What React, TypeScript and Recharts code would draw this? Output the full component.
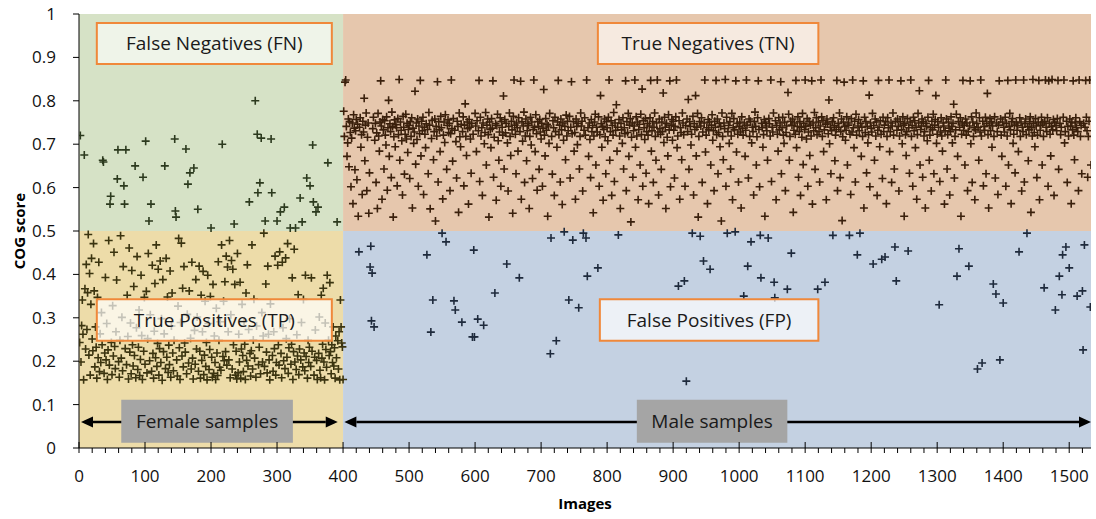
import {
  ScatterChart,
  Scatter,
  XAxis,
  YAxis,
  ReferenceArea,
  ReferenceLine,
} from "recharts";

// COG score per image, image 1..400 are female samples
const femaleScores = [
  0.243, 0.72, 0.198, 0.282, 0.341, 0.262, 0.157, 0.675, 0.367, 0.228, 0.423, 0.273, 0.358, 0.492, 0.214, 0.402, 0.168, 0.331, 0.437, 0.251,
  0.224, 0.471, 0.362, 0.187, 0.279, 0.232, 0.161, 0.347, 0.208, 0.428, 0.176, 0.263, 0.197, 0.312, 0.238, 0.663, 0.659, 0.172, 0.219, 0.393,
  0.203, 0.287, 0.158, 0.226, 0.478, 0.191, 0.562, 0.58, 0.243, 0.169, 0.328, 0.212, 0.451, 0.234, 0.183, 0.268, 0.387, 0.62, 0.687, 0.199,
  0.163, 0.248, 0.489, 0.207, 0.301, 0.178, 0.418, 0.604, 0.562, 0.229, 0.687, 0.192, 0.352, 0.257, 0.159, 0.461, 0.221, 0.288, 0.171, 0.409,
  0.238, 0.189, 0.372, 0.213, 0.65, 0.162, 0.277, 0.441, 0.181, 0.232, 0.318, 0.167, 0.204, 0.398, 0.259, 0.158, 0.624, 0.223, 0.347, 0.193,
  0.707, 0.361, 0.173, 0.252, 0.448, 0.523, 0.201, 0.307, 0.562, 0.177, 0.421, 0.218, 0.161, 0.269, 0.379, 0.208, 0.468, 0.188, 0.241, 0.412,
  0.168, 0.229, 0.431, 0.197, 0.298, 0.156, 0.388, 0.222, 0.263, 0.65, 0.183, 0.437, 0.209, 0.348, 0.174, 0.237, 0.192, 0.408, 0.163, 0.281,
  0.357, 0.219, 0.178, 0.248, 0.712, 0.546, 0.532, 0.203, 0.166, 0.327, 0.483, 0.231, 0.158, 0.289, 0.472, 0.212, 0.368, 0.187, 0.418, 0.242,
  0.221, 0.689, 0.171, 0.308, 0.608, 0.196, 0.362, 0.634, 0.253, 0.182, 0.428, 0.207, 0.159, 0.645, 0.271, 0.193, 0.388, 0.228, 0.302, 0.55,
  0.177, 0.419, 0.223, 0.161, 0.352, 0.202, 0.268, 0.407, 0.169, 0.214, 0.338, 0.188, 0.243, 0.157, 0.398, 0.287, 0.181, 0.227, 0.349, 0.507,
  0.209, 0.163, 0.377, 0.172, 0.258, 0.197, 0.158, 0.322, 0.219, 0.167, 0.429, 0.248, 0.186, 0.291, 0.179, 0.468, 0.70, 0.211, 0.338, 0.201,
  0.383, 0.222, 0.442, 0.191, 0.417, 0.268, 0.203, 0.478, 0.162, 0.307, 0.432, 0.182, 0.412, 0.238, 0.516, 0.377, 0.168, 0.223, 0.159, 0.448,
  0.173, 0.262, 0.198, 0.382, 0.161, 0.228, 0.331, 0.213, 0.176, 0.292, 0.239, 0.158, 0.357, 0.202, 0.422, 0.189, 0.273, 0.567, 0.218, 0.166,
  0.224, 0.468, 0.182, 0.249, 0.343, 0.207, 0.80, 0.163, 0.281, 0.723, 0.588, 0.192, 0.232, 0.611, 0.171, 0.714, 0.312, 0.198, 0.258, 0.495,
  0.188, 0.523, 0.378, 0.221, 0.173, 0.419, 0.262, 0.203, 0.157, 0.332, 0.712, 0.588, 0.213, 0.177, 0.268, 0.229, 0.442, 0.168, 0.197, 0.523,
  0.421, 0.238, 0.191, 0.452, 0.544, 0.218, 0.162, 0.428, 0.277, 0.201, 0.555, 0.183, 0.438, 0.252, 0.209, 0.471, 0.172, 0.231, 0.298, 0.507,
  0.193, 0.239, 0.392, 0.158, 0.222, 0.458, 0.198, 0.507, 0.181, 0.261, 0.212, 0.353, 0.169, 0.228, 0.576, 0.203, 0.289, 0.521, 0.187, 0.342,
  0.219, 0.178, 0.398, 0.211, 0.622, 0.161, 0.248, 0.197, 0.232, 0.604, 0.188, 0.392, 0.223, 0.698, 0.567, 0.168, 0.209, 0.272, 0.544, 0.202,
  0.158, 0.555, 0.218, 0.302, 0.179, 0.162, 0.352, 0.207, 0.239, 0.368, 0.198, 0.157, 0.288, 0.227, 0.186, 0.398, 0.657, 0.248, 0.213, 0.381,
  0.222, 0.171, 0.238, 0.197, 0.279, 0.189, 0.231, 0.161, 0.258, 0.208, 0.521, 0.247, 0.182, 0.268, 0.157, 0.341, 0.279, 0.242, 0.233, 0.158,
];

// COG score per image, image 401..1533 are male samples
const maleScores = [
  0.776, 0.718, 0.843, 0.848, 0.741, 0.672, 0.703, 0.758, 0.648, 0.752, 0.727, 0.602, 0.714, 0.749, 0.563, 0.768, 0.737, 0.641, 0.731, 0.757,
  0.618, 0.746, 0.534, 0.452, 0.739, 0.761, 0.693, 0.722, 0.584, 0.753, 0.728, 0.806, 0.662, 0.744, 0.772, 0.593, 0.716, 0.749, 0.541, 0.634,
  0.417, 0.465, 0.293, 0.403, 0.736, 0.762, 0.279, 0.709, 0.748, 0.612, 0.726, 0.552, 0.771, 0.719, 0.684, 0.751, 0.846, 0.742, 0.573, 0.757,
  0.733, 0.643, 0.754, 0.721, 0.698, 0.763, 0.594, 0.738, 0.801, 0.672, 0.747, 0.729, 0.623, 0.774, 0.741, 0.532, 0.717, 0.756, 0.694, 0.745,
  0.738, 0.604, 0.759, 0.722, 0.849, 0.663, 0.751, 0.732, 0.708, 0.583, 0.764, 0.739, 0.631, 0.723, 0.769, 0.712, 0.748, 0.681, 0.734, 0.743,
  0.621, 0.752, 0.718, 0.761, 0.553, 0.737, 0.702, 0.728, 0.822, 0.654, 0.749, 0.711, 0.758, 0.603, 0.742, 0.724, 0.847, 0.673, 0.753, 0.731,
  0.762, 0.584, 0.739, 0.723, 0.692, 0.747, 0.445, 0.734, 0.632, 0.773, 0.744, 0.551, 0.267, 0.713, 0.755, 0.341, 0.664, 0.729, 0.758, 0.523,
  0.741, 0.719, 0.844, 0.613, 0.752, 0.733, 0.683, 0.764, 0.738, 0.495, 0.574, 0.721, 0.751, 0.704, 0.768, 0.475, 0.642, 0.743, 0.756, 0.727,
  0.748, 0.593, 0.724, 0.848, 0.736, 0.661, 0.759, 0.339, 0.732, 0.318, 0.706, 0.622, 0.753, 0.741, 0.543, 0.772, 0.717, 0.694, 0.746, 0.29,
  0.729, 0.763, 0.604, 0.744, 0.793, 0.718, 0.674, 0.751, 0.736, 0.562, 0.757, 0.739, 0.712, 0.633, 0.748, 0.256, 0.723, 0.456, 0.256, 0.771,
  0.742, 0.683, 0.754, 0.297, 0.731, 0.847, 0.614, 0.762, 0.719, 0.738, 0.582, 0.749, 0.283, 0.701, 0.727, 0.773, 0.652, 0.744, 0.758, 0.722,
  0.532, 0.751, 0.734, 0.692, 0.759, 0.737, 0.846, 0.624, 0.716, 0.357, 0.747, 0.571, 0.743, 0.769, 0.708, 0.663, 0.728, 0.761, 0.603, 0.752,
  0.739, 0.721, 0.811, 0.643, 0.757, 0.726, 0.748, 0.424, 0.703, 0.592, 0.741, 0.772, 0.718, 0.674, 0.753, 0.733, 0.541, 0.764, 0.848, 0.744,
  0.723, 0.632, 0.749, 0.738, 0.684, 0.761, 0.392, 0.729, 0.845, 0.573, 0.752, 0.707, 0.742, 0.774, 0.612, 0.719, 0.758, 0.662, 0.731, 0.747,
  0.743, 0.552, 0.718, 0.762, 0.698, 0.751, 0.621, 0.734, 0.848, 0.739, 0.683, 0.768, 0.724, 0.594, 0.752, 0.741, 0.642, 0.757, 0.728, 0.712,
  0.748, 0.603, 0.737, 0.826, 0.721, 0.673, 0.759, 0.732, 0.746, 0.534, 0.742, 0.702, 0.771, 0.217, 0.484, 0.718, 0.631, 0.754, 0.738, 0.582,
  0.762, 0.729, 0.247, 0.693, 0.751, 0.847, 0.722, 0.744, 0.613, 0.758, 0.733, 0.561, 0.749, 0.709, 0.498, 0.741, 0.664, 0.767, 0.719, 0.753,
  0.731, 0.341, 0.764, 0.622, 0.739, 0.844, 0.724, 0.479, 0.752, 0.684, 0.727, 0.573, 0.758, 0.741, 0.699, 0.748, 0.323, 0.643, 0.718, 0.772,
  0.742, 0.753, 0.592, 0.495, 0.732, 0.761, 0.721, 0.484, 0.848, 0.396, 0.738, 0.672, 0.749, 0.711, 0.623, 0.757, 0.729, 0.743, 0.542, 0.719,
  0.751, 0.769, 0.652, 0.739, 0.728, 0.415, 0.763, 0.603, 0.722, 0.812, 0.747, 0.693, 0.741, 0.571, 0.734, 0.758, 0.717, 0.632, 0.752, 0.738,
  0.708, 0.762, 0.848, 0.663, 0.729, 0.754, 0.582, 0.743, 0.721, 0.773, 0.614, 0.749, 0.732, 0.791, 0.684, 0.739, 0.491, 0.757, 0.719, 0.552,
  0.748, 0.733, 0.702, 0.761, 0.643, 0.738, 0.724, 0.846, 0.593, 0.752, 0.727, 0.771, 0.672, 0.744, 0.759, 0.521, 0.716, 0.749, 0.624, 0.731,
  0.742, 0.848, 0.693, 0.763, 0.719, 0.751, 0.572, 0.734, 0.746, 0.652, 0.769, 0.722, 0.827, 0.603, 0.754, 0.738, 0.711, 0.759, 0.633, 0.729,
  0.747, 0.721, 0.563, 0.742, 0.761, 0.847, 0.684, 0.731, 0.752, 0.612, 0.739, 0.772, 0.718, 0.663, 0.749, 0.848, 0.728, 0.583, 0.758, 0.736,
  0.723, 0.642, 0.751, 0.729, 0.818, 0.704, 0.762, 0.739, 0.552, 0.748, 0.716, 0.673, 0.768, 0.733, 0.846, 0.602, 0.744, 0.757, 0.709, 0.753,
  0.732, 0.622, 0.741, 0.763, 0.848, 0.692, 0.719, 0.373, 0.754, 0.573, 0.738, 0.727, 0.664, 0.772, 0.749, 0.722, 0.385, 0.603, 0.743, 0.154,
  0.758, 0.729, 0.803, 0.642, 0.752, 0.741, 0.698, 0.723, 0.495, 0.764, 0.583, 0.747, 0.734, 0.812, 0.673, 0.739, 0.771, 0.532, 0.718, 0.752,
  0.488, 0.742, 0.761, 0.612, 0.728, 0.431, 0.749, 0.848, 0.682, 0.721, 0.738, 0.563, 0.757, 0.733, 0.751, 0.412, 0.652, 0.744, 0.768, 0.709,
  0.731, 0.593, 0.753, 0.739, 0.847, 0.722, 0.758, 0.632, 0.727, 0.748, 0.694, 0.741, 0.523, 0.772, 0.718, 0.664, 0.749, 0.736, 0.849, 0.603,
  0.762, 0.495, 0.729, 0.743, 0.702, 0.752, 0.643, 0.719, 0.771, 0.572, 0.738, 0.759, 0.733, 0.498, 0.846, 0.682, 0.748, 0.723, 0.613, 0.741,
  0.751, 0.728, 0.553, 0.763, 0.737, 0.721, 0.35, 0.749, 0.672, 0.732, 0.848, 0.744, 0.419, 0.622, 0.758, 0.718, 0.753, 0.475, 0.703, 0.739,
  0.729, 0.583, 0.752, 0.774, 0.741, 0.652, 0.717, 0.761, 0.846, 0.734, 0.602, 0.49, 0.392, 0.748, 0.738, 0.693, 0.722, 0.757, 0.534, 0.751,
  0.742, 0.731, 0.663, 0.484, 0.759, 0.747, 0.719, 0.848, 0.614, 0.739, 0.728, 0.772, 0.382, 0.346, 0.754, 0.572, 0.743, 0.723, 0.684, 0.761,
  0.733, 0.749, 0.844, 0.632, 0.738, 0.762, 0.721, 0.702, 0.751, 0.593, 0.727, 0.742, 0.366, 0.819, 0.769, 0.663, 0.718, 0.753, 0.449, 0.744,
  0.758, 0.543, 0.732, 0.749, 0.723, 0.847, 0.692, 0.741, 0.763, 0.624, 0.729, 0.752, 0.582, 0.739, 0.716, 0.771, 0.653, 0.748, 0.734, 0.848,
  0.741, 0.712, 0.759, 0.603, 0.728, 0.753, 0.674, 0.744, 0.719, 0.846, 0.562, 0.749, 0.731, 0.773, 0.642, 0.738, 0.761, 0.722, 0.366, 0.751,
  0.729, 0.613, 0.742, 0.848, 0.763, 0.718, 0.754, 0.683, 0.733, 0.382, 0.746, 0.572, 0.758, 0.749, 0.724, 0.802, 0.701, 0.739, 0.632, 0.731,
  0.752, 0.49, 0.761, 0.743, 0.662, 0.721, 0.734, 0.847, 0.593, 0.748, 0.739, 0.772, 0.623, 0.729, 0.758, 0.524, 0.717, 0.751, 0.843, 0.741,
  0.709, 0.732, 0.763, 0.652, 0.744, 0.749, 0.49, 0.723, 0.584, 0.759, 0.728, 0.848, 0.738, 0.692, 0.753, 0.613, 0.769, 0.721, 0.445, 0.742,
  0.757, 0.731, 0.495, 0.748, 0.672, 0.739, 0.718, 0.846, 0.553, 0.762, 0.727, 0.752, 0.634, 0.741, 0.703, 0.722, 0.813, 0.602, 0.749, 0.737,
  0.728, 0.771, 0.424, 0.743, 0.663, 0.758, 0.719, 0.751, 0.582, 0.732, 0.847, 0.739, 0.694, 0.754, 0.723, 0.435, 0.621, 0.762, 0.729, 0.744,
  0.44, 0.752, 0.563, 0.718, 0.761, 0.738, 0.848, 0.683, 0.729, 0.749, 0.612, 0.742, 0.772, 0.721, 0.643, 0.463, 0.753, 0.385, 0.732, 0.758,
  0.741, 0.592, 0.719, 0.752, 0.846, 0.733, 0.701, 0.763, 0.744, 0.534, 0.748, 0.722, 0.674, 0.729, 0.759, 0.454, 0.738, 0.633, 0.751, 0.848,
  0.718, 0.743, 0.603, 0.762, 0.731, 0.754, 0.692, 0.739, 0.573, 0.722, 0.771, 0.749, 0.823, 0.652, 0.734, 0.742, 0.758, 0.624, 0.752, 0.719,
  0.729, 0.553, 0.748, 0.741, 0.708, 0.762, 0.847, 0.663, 0.721, 0.738, 0.592, 0.753, 0.733, 0.769, 0.632, 0.744, 0.757, 0.812, 0.702, 0.723,
  0.752, 0.739, 0.33, 0.614, 0.728, 0.761, 0.719, 0.684, 0.749, 0.742, 0.562, 0.731, 0.848, 0.758, 0.643, 0.722, 0.751, 0.737, 0.583, 0.729,
  0.763, 0.741, 0.703, 0.748, 0.792, 0.622, 0.718, 0.733, 0.769, 0.396, 0.672, 0.752, 0.459, 0.739, 0.761, 0.534, 0.723, 0.749, 0.847, 0.732,
  0.744, 0.652, 0.758, 0.721, 0.749, 0.593, 0.729, 0.419, 0.742, 0.846, 0.701, 0.763, 0.612, 0.751, 0.718, 0.738, 0.572, 0.733, 0.772, 0.748,
  0.182, 0.739, 0.663, 0.761, 0.728, 0.848, 0.719, 0.196, 0.753, 0.604, 0.741, 0.732, 0.762, 0.632, 0.748, 0.817, 0.722, 0.553, 0.743, 0.759,
  0.731, 0.752, 0.693, 0.742, 0.378, 0.718, 0.763, 0.622, 0.355, 0.749, 0.729, 0.584, 0.744, 0.846, 0.203, 0.758, 0.721, 0.672, 0.751, 0.334,
  0.739, 0.728, 0.762, 0.603, 0.748, 0.719, 0.847, 0.652, 0.741, 0.771, 0.733, 0.563, 0.752, 0.759, 0.702, 0.723, 0.744, 0.634, 0.848, 0.749,
  0.732, 0.743, 0.683, 0.452, 0.761, 0.718, 0.751, 0.592, 0.739, 0.729, 0.848, 0.613, 0.747, 0.758, 0.722, 0.495, 0.741, 0.662, 0.733, 0.752,
  0.763, 0.543, 0.738, 0.719, 0.849, 0.748, 0.727, 0.694, 0.759, 0.742, 0.623, 0.721, 0.751, 0.847, 0.572, 0.732, 0.744, 0.762, 0.652, 0.749,
  0.718, 0.369, 0.752, 0.848, 0.739, 0.729, 0.761, 0.603, 0.846, 0.748, 0.723, 0.673, 0.741, 0.849, 0.733, 0.757, 0.582, 0.751, 0.318, 0.743,
  0.731, 0.759, 0.847, 0.642, 0.396, 0.748, 0.722, 0.739, 0.353, 0.445, 0.762, 0.848, 0.703, 0.729, 0.463, 0.753, 0.612, 0.741, 0.719, 0.415,
  0.758, 0.742, 0.563, 0.751, 0.733, 0.846, 0.721, 0.664, 0.749, 0.761, 0.738, 0.35, 0.729, 0.593, 0.848, 0.752, 0.718, 0.743, 0.632, 0.362,
  0.226, 0.748, 0.468, 0.739, 0.847, 0.762, 0.731, 0.624, 0.718, 0.753, 0.848, 0.325, 0.652,
];

const threshold = 0.5;
const xMax = 1533;
const xMinorStep = 20;
const yTicks = [0, 0.1, 0.2, 0.3, 0.4, 0.5, 0.6, 0.7, 0.8, 0.9, 1];

const FONT = '"Open Sans", sans-serif';

const female = femaleScores.map((v, i) => ({ x: i + 1, y: v }));
const male = maleScores.map((v, i) => ({ x: femaleScores.length + i + 1, y: v }));
const fn = female.filter((p) => p.y >= threshold);
const tp = female.filter((p) => p.y < threshold);
const tn = male.filter((p) => p.y >= threshold);
const fp = male.filter((p) => p.y < threshold);

// every 20 gets a small tick, every 100 a labelled one
const xTicks: number[] = [];
for (let t = 0; t <= xMax; t += xMinorStep) xTicks.push(t);

function Plus(props: any) {
  const { cx, cy, fill } = props;
  if (cx == null || cy == null) return null;
  return (
    <path
      d={`M${cx - 4},${cy}H${cx + 4}M${cx},${cy - 4}V${cy + 4}`}
      stroke={fill}
      strokeWidth={1.6}
      fill="none"
    />
  );
}

function XTick(props: any) {
  const { x, y, payload } = props;
  const v = payload.value;
  const major = v % 100 === 0;
  return (
    <g>
      <line x1={x} x2={x} y1={major ? y - 6 : y} y2={y + 5} stroke="#000" strokeWidth={1} />
      {major && (
        <text x={x} y={y + 34} textAnchor="middle" fontSize={17} fontFamily={FONT} fill="#111">
          {v}
        </text>
      )}
    </g>
  );
}

function Arrow(props: any) {
  const { x1, y1, x2, y2 } = props;
  const h = 12;
  const w = 5.5;
  return (
    <g>
      <line x1={x1 + h} y1={y1} x2={x2 - h} y2={y2} stroke="#000" strokeWidth={2.4} />
      <polygon points={`${x1},${y1} ${x1 + h},${y1 - w} ${x1 + h},${y1 + w}`} fill="#000" />
      <polygon points={`${x2},${y2} ${x2 - h},${y2 - w} ${x2 - h},${y2 + w}`} fill="#000" />
    </g>
  );
}

const boxLabel = (value: string) => ({
  value,
  position: "center" as const,
  fontSize: 19,
  fontFamily: FONT,
  fill: "#1a1a1a",
});

export default function App() {
  return (
    <div style={{ position: "absolute", left: 0, top: 0, background: "#fff" }}>
      <ScatterChart
        width={1096}
        height={519}
        margin={{ top: 14, right: 5, bottom: 0, left: 0 }}
        style={{ fontFamily: FONT }}
      >
        <ReferenceArea x1={0} x2={400} y1={0.5} y2={1} fill="#d6e2c6" fillOpacity={1} stroke="none" />
        <ReferenceArea x1={0} x2={400} y1={0} y2={0.5} fill="#eddca9" fillOpacity={1} stroke="none" />
        <ReferenceArea x1={400} x2={xMax} y1={0.5} y2={1} fill="#e6c7ad" fillOpacity={1} stroke="none" />
        <ReferenceArea x1={400} x2={xMax} y1={0} y2={0.5} fill="#c4d1e2" fillOpacity={1} stroke="none" />
        <XAxis
          type="number"
          dataKey="x"
          domain={[0, xMax]}
          ticks={xTicks}
          interval={0}
          tick={<XTick />}
          tickLine={false}
          tickSize={0}
          tickMargin={0}
          height={71}
          axisLine={{ stroke: "#000" }}
          allowDataOverflow
          label={{
            value: "Images",
            position: "insideBottom",
            offset: 10,
            fontSize: 15,
            fontWeight: 700,
            fontFamily: FONT,
            fill: "#000",
          }}
        />
        <YAxis
          type="number"
          dataKey="y"
          domain={[0, 1]}
          ticks={yTicks}
          interval={0}
          width={79}
          tickSize={6}
          tickMargin={17}
          tick={{ fontSize: 17, fill: "#111", fontFamily: FONT }}
          tickLine={{ stroke: "#000" }}
          axisLine={{ stroke: "#000" }}
          allowDataOverflow
          label={{
            value: "COG score",
            angle: -90,
            position: "insideLeft",
            offset: 20,
            fontSize: 15,
            fontWeight: 700,
            fontFamily: FONT,
            fill: "#000",
            style: { textAnchor: "middle" },
          }}
        />
        <Scatter data={fn} fill="#2c3a1e" shape={<Plus />} isAnimationActive={false} />
        <Scatter data={tp} fill="#3b3410" shape={<Plus />} isAnimationActive={false} />
        <Scatter data={tn} fill="#3a200c" shape={<Plus />} isAnimationActive={false} />
        <Scatter data={fp} fill="#1e2a3c" shape={<Plus />} isAnimationActive={false} />
        <ReferenceArea
          x1={27} x2={383} y1={0.885} y2={0.979}
          fill="#fff" fillOpacity={0.62} stroke="#f0883a" strokeWidth={2}
          label={boxLabel("False Negatives (FN)")} zIndex={700}
        />
        <ReferenceArea
          x1={786} x2={1120} y1={0.885} y2={0.979}
          fill="#fff" fillOpacity={0.62} stroke="#f0883a" strokeWidth={2}
          label={boxLabel("True Negatives (TN)")} zIndex={700}
        />
        <ReferenceArea
          x1={27} x2={383} y1={0.247} y2={0.343}
          fill="#fff" fillOpacity={0.7} stroke="#f0883a" strokeWidth={2}
          label={boxLabel("True Positives (TP)")} zIndex={700}
        />
        <ReferenceArea
          x1={789} x2={1120} y1={0.247} y2={0.343}
          fill="#fff" fillOpacity={0.7} stroke="#f0883a" strokeWidth={2}
          label={boxLabel("False Positives (FP)")} zIndex={700}
        />
        <ReferenceLine segment={[{ x: 3, y: 0.06 }, { x: 392, y: 0.06 }]} shape={<Arrow />} zIndex={700} />
        <ReferenceLine segment={[{ x: 402, y: 0.06 }, { x: xMax, y: 0.06 }]} shape={<Arrow />} zIndex={700} />
        <ReferenceArea
          x1={64} x2={324} y1={0.012} y2={0.111}
          fill="#a5a5a5" fillOpacity={1} stroke="none"
          label={boxLabel("Female samples")} zIndex={710}
        />
        <ReferenceArea
          x1={845} x2={1073} y1={0.012} y2={0.111}
          fill="#a5a5a5" fillOpacity={1} stroke="none"
          label={boxLabel("Male samples")} zIndex={710}
        />
      </ScatterChart>
    </div>
  );
}
